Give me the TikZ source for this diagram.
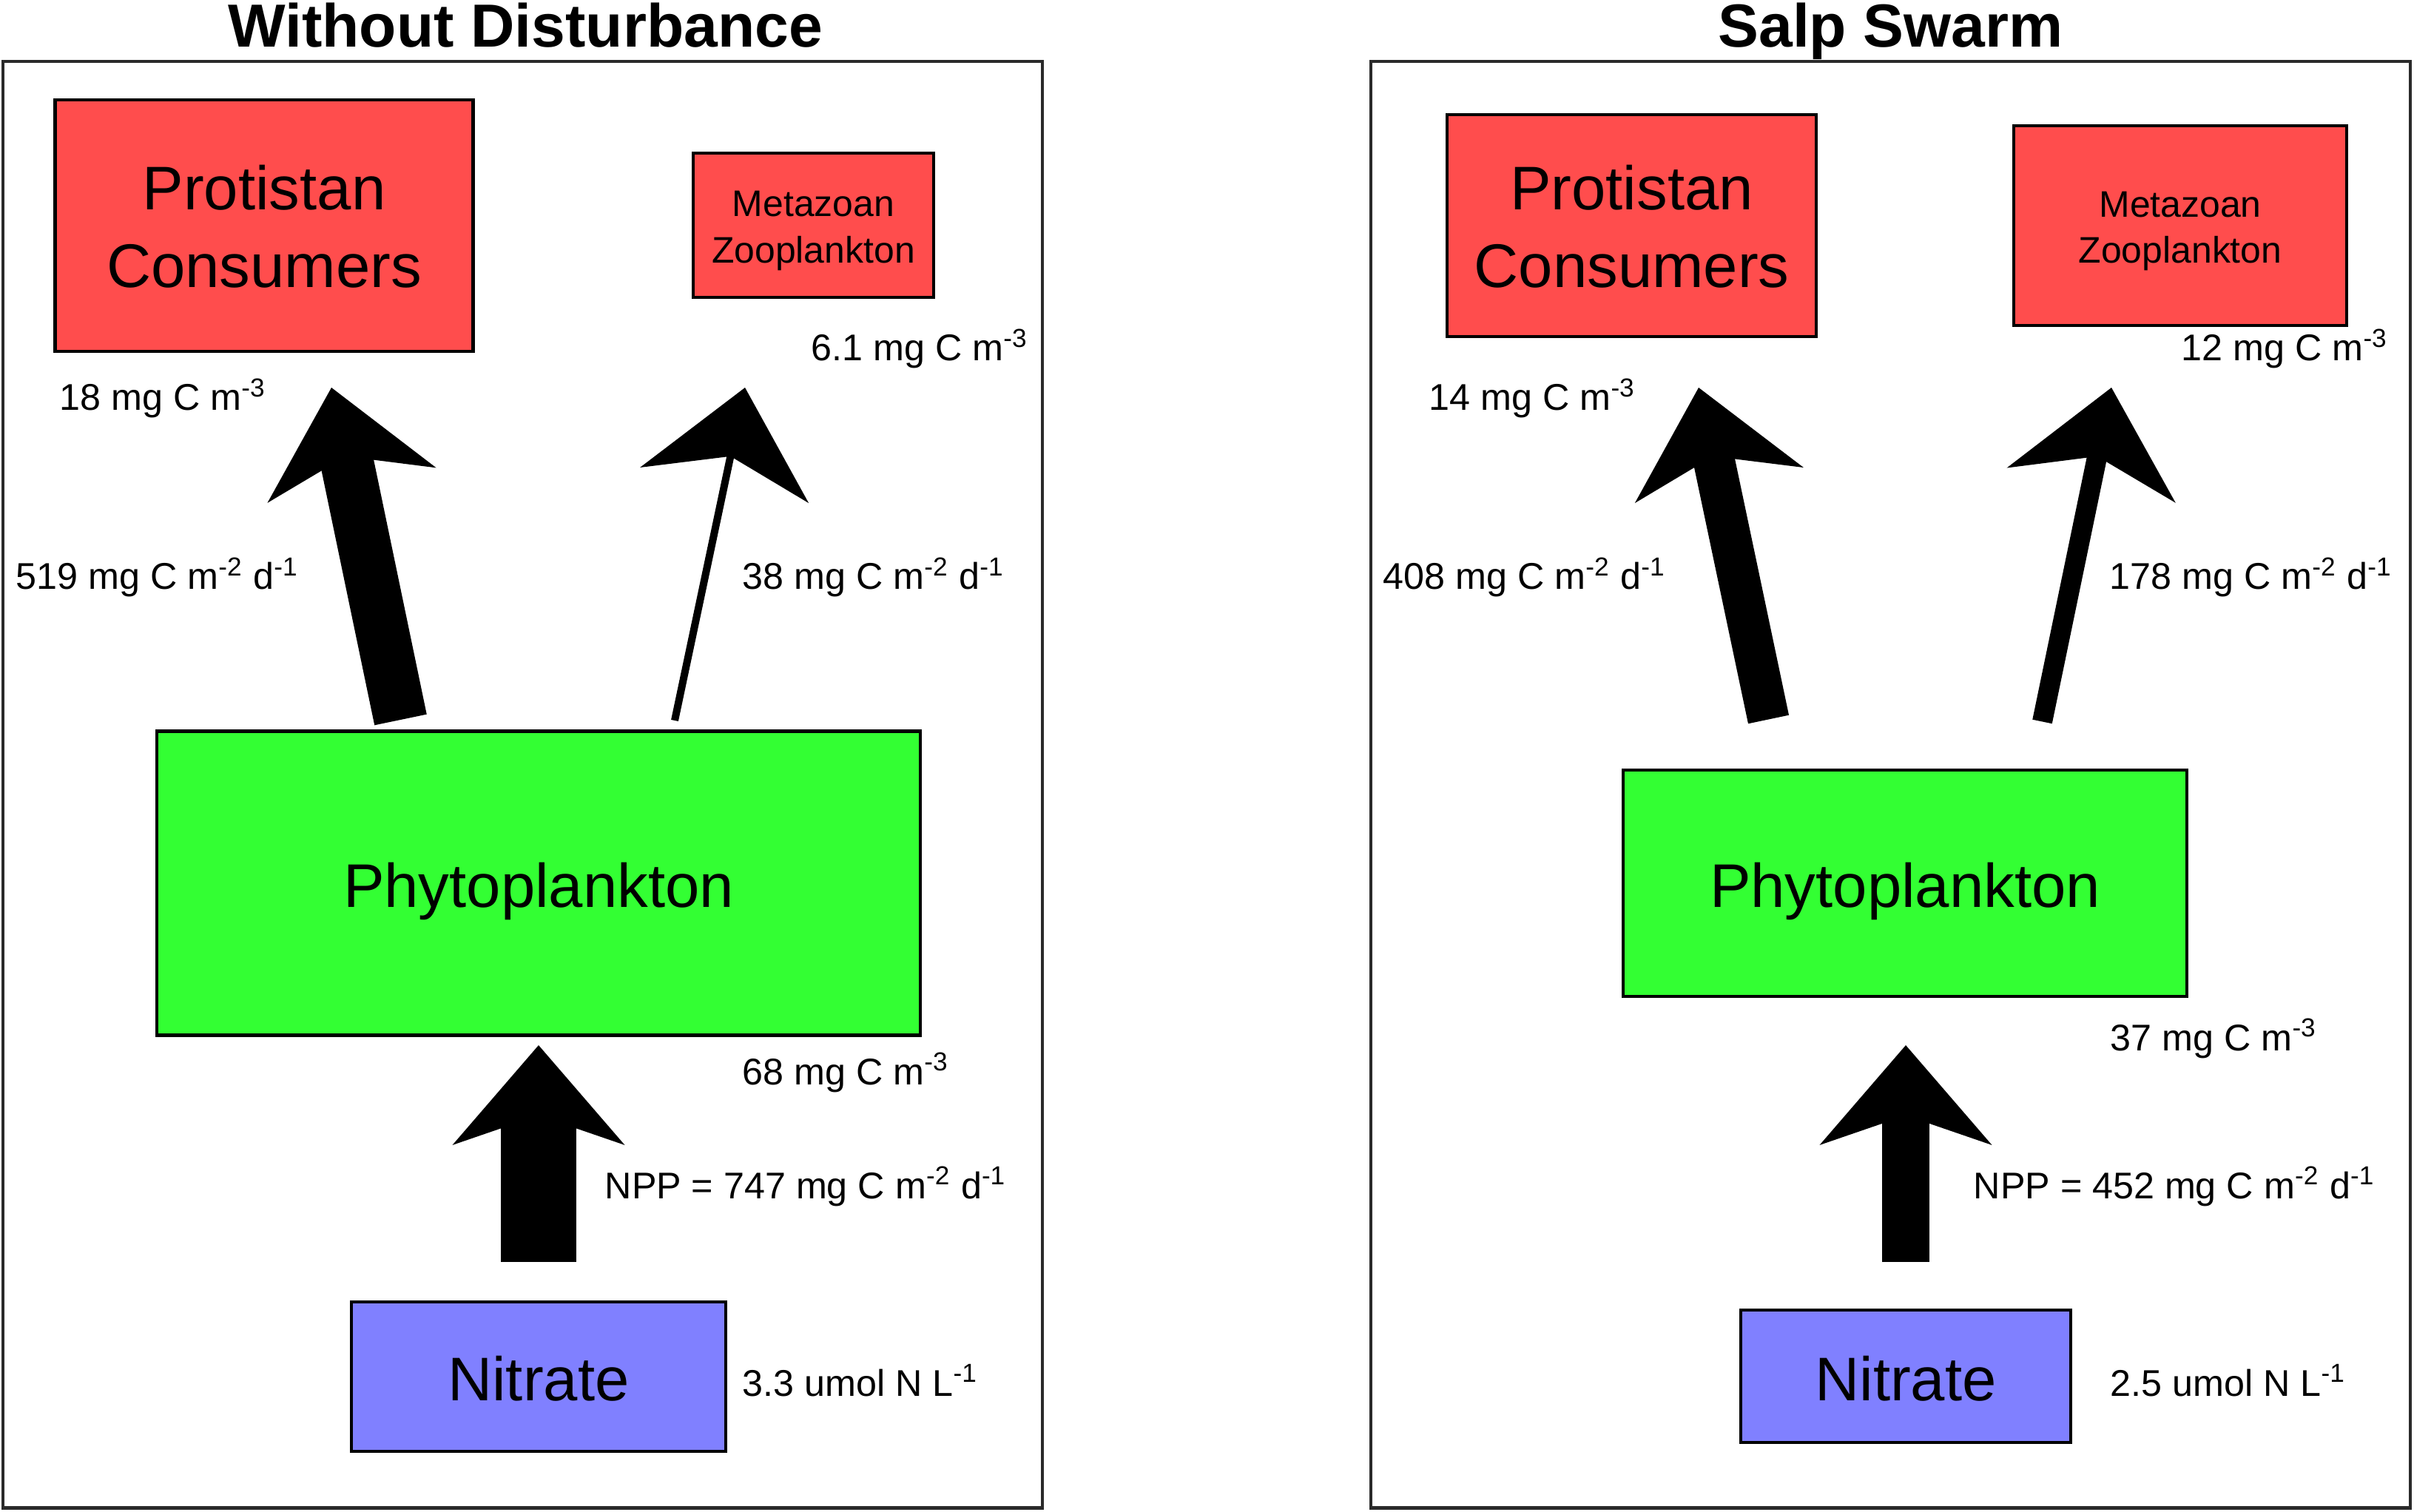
\documentclass[tikz,border=0pt]{standalone}
\usepackage{fontspec}
\setmainfont{Liberation Sans}
\usetikzlibrary{arrows.meta,positioning}

\definecolor{consred}{RGB}{255,77,77}
\definecolor{phygreen}{RGB}{51,255,51}
\definecolor{nitblue}{RGB}{128,128,255}
\definecolor{framegray}{RGB}{42,42,42}

\tikzset{
  frame/.style={draw=framegray, line width=1.15pt},
  title/.style={font=\fontsize{23.4}{27}\selectfont\bfseries, anchor=base, inner sep=0pt},
  pool/.style={draw, line width=1.2pt, inner sep=0pt, align=center},
  bigtxt/.style={font=\fontsize{23.7}{30}\selectfont, text height=18.5pt, text depth=0pt},
  twoline/.style={font=\fontsize{23.7}{30}\selectfont, text height=47.5pt, text depth=0pt},
  smalltxt/.style={font=\fontsize{14.2}{17.8}\selectfont, text height=29pt, text depth=0pt},
  val/.style={font=\fontsize{14.3}{17}\selectfont, anchor=base west, inner sep=0pt},
  flow/.style={line width=#1, line cap=butt,
    -{Stealth[length=38.4pt,width=66.3pt,inset=11.4pt,line width=0pt]}},
}

\begin{document}
\begin{tikzpicture}
\useasboundingbox (0,0) rectangle (32.63,20.43);

% left panel
\draw[frame] (0.043,0.045) rectangle (14.09,19.60);
\node[title] (titleL) at (7.10,19.79) {Without Disturbance};

\node[pool, twoline, fill=consred, minimum width=5.65cm, minimum height=3.40cm] (protL) at (3.57,17.38) {Protistan\\Consumers};
\node[pool, smalltxt, fill=consred, minimum width=3.25cm, minimum height=1.95cm] (metaL) at (10.995,17.385) {Metazoan\\Zooplankton};
\node[pool, bigtxt, fill=phygreen, minimum width=10.32cm, minimum height=4.11cm] (phyL) at (7.28,8.49) {Phytoplankton};
\node[pool, bigtxt, fill=nitblue, minimum width=5.065cm, minimum height=2.02cm] (nitL) at (7.28,1.82) {Nitrate};

\coordinate (a1Ls) at (5.415,10.70);
\coordinate (a1Le) at (4.48,15.19);
\coordinate (a2Ls) at (9.12,10.69);
\coordinate (a2Le) at (10.07,15.19);
\coordinate (nppLs) at (7.28,3.37);
\coordinate (nppLe) at (7.28,6.30);
\draw[flow=20.5pt] (a1Ls) -- (a1Le);
\draw[flow=2.85pt] (a2Ls) -- (a2Le);
\draw[flow=29pt] (nppLs) -- (nppLe);

\node[val] (protLval) at (0.80,14.88) {18 mg C m\textsuperscript{-3}};
\node[val] (metaLval) at (10.96,15.55) {6.1 mg C m\textsuperscript{-3}};
\node[val] (a1Lval) at (0.21,12.46) {519 mg C m\textsuperscript{-2} d\textsuperscript{-1}};
\node[val] (a2Lval) at (10.03,12.46) {38 mg C m\textsuperscript{-2} d\textsuperscript{-1}};
\node[val] (phyLval) at (10.03,5.77) {68 mg C m\textsuperscript{-3}};
\node[val] (nppLval) at (8.17,4.23) {NPP = 747 mg C m\textsuperscript{-2} d\textsuperscript{-1}};
\node[val] (nitLval) at (10.03,1.56) {3.3 umol N L\textsuperscript{-1}};

% right panel
\draw[frame] (18.53,0.045) rectangle (32.58,19.60);
\node[title] (titleR) at (25.555,19.79) {Salp Swarm};

\node[pool, twoline, fill=consred, minimum width=4.99cm, minimum height=3.00cm] (protR) at (22.055,17.38) {Protistan\\Consumers};
\node[pool, smalltxt, fill=consred, minimum width=4.50cm, minimum height=2.70cm] (metaR) at (29.47,17.38) {Metazoan\\Zooplankton};
\node[pool, bigtxt, fill=phygreen, minimum width=7.615cm, minimum height=3.065cm] (phyR) at (25.75,8.49) {Phytoplankton};
\node[pool, bigtxt, fill=nitblue, minimum width=4.455cm, minimum height=1.79cm] (nitR) at (25.76,1.825) {Nitrate};

\coordinate (a1Rs) at (23.905,10.705);
\coordinate (a1Re) at (22.96,15.19);
\coordinate (a2Rs) at (27.605,10.675);
\coordinate (a2Re) at (28.54,15.19);
\coordinate (nppRs) at (25.76,3.37);
\coordinate (nppRe) at (25.76,6.30);
\draw[flow=16pt] (a1Rs) -- (a1Re);
\draw[flow=7.7pt] (a2Rs) -- (a2Re);
\draw[flow=18.1pt] (nppRs) -- (nppRe);

\node[val] (protRval) at (19.31,14.88) {14 mg C m\textsuperscript{-3}};
\node[val] (metaRval) at (29.48,15.55) {12 mg C m\textsuperscript{-3}};
\node[val] (a1Rval) at (18.69,12.46) {408 mg C m\textsuperscript{-2} d\textsuperscript{-1}};
\node[val] (a2Rval) at (28.51,12.46) {178 mg C m\textsuperscript{-2} d\textsuperscript{-1}};
\node[val] (phyRval) at (28.52,6.23) {37 mg C m\textsuperscript{-3}};
\node[val] (nppRval) at (26.67,4.23) {NPP = 452 mg C m\textsuperscript{-2} d\textsuperscript{-1}};
\node[val] (nitRval) at (28.52,1.56) {2.5 umol N L\textsuperscript{-1}};
\end{tikzpicture}
\end{document}
